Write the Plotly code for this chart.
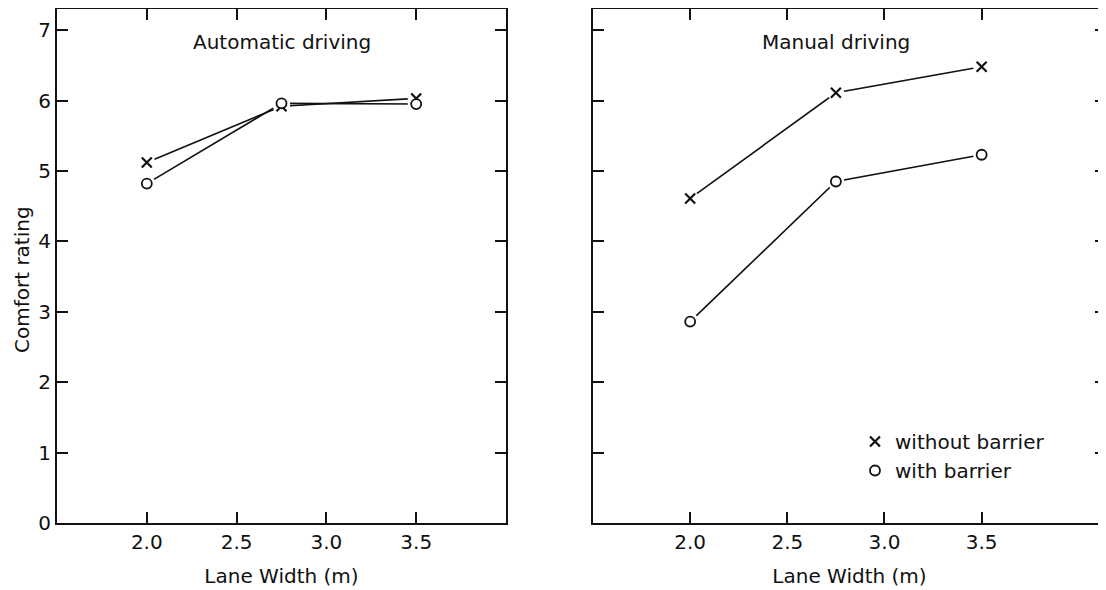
import plotly.graph_objects as go

# ---- data ----
lane_width = [2.0, 2.75, 3.5]
auto_without = [5.12, 5.92, 6.03]
auto_with = [4.82, 5.96, 5.95]
manual_without = [4.61, 6.11, 6.48]
manual_with = [2.86, 4.85, 5.23]
x_ticks = [2.0, 2.5, 3.0, 3.5]
x_tick_labels = ["2.0", "2.5", "3.0", "3.5"]
y_ticks = [0, 1, 2, 3, 4, 5, 6, 7]
panel_titles = ["Automatic driving", "Manual driving"]
series_names = ["without barrier", "with barrier"]

FONT = "DejaVu Sans"
FS = 20
BLACK = "#111111"

fig = go.Figure()

panels = [("x", "y", auto_without, auto_with), ("x2", "y2", manual_without, manual_with)]

# lines first
for xa, ya, wo, wi in panels:
    for vals in (wo, wi):
        fig.add_trace(go.Scatter(x=lane_width, y=vals, xaxis=xa, yaxis=ya, mode="lines",
                                 line=dict(color=BLACK, width=1.6), showlegend=False,
                                 hoverinfo="skip"))
# white halos to create gaps around markers
for xa, ya, wo, wi in panels:
    for vals in (wo, wi):
        fig.add_trace(go.Scatter(x=lane_width, y=vals, xaxis=xa, yaxis=ya, mode="markers",
                                 marker=dict(symbol="circle", size=17, color="white"),
                                 showlegend=False, hoverinfo="skip"))
# markers
for i, (xa, ya, wo, wi) in enumerate(panels):
    fig.add_trace(go.Scatter(x=lane_width, y=wo, xaxis=xa, yaxis=ya, mode="markers",
                             name=series_names[0], showlegend=(i == 1),
                             marker=dict(symbol="x-thin", size=10,
                                         line=dict(color=BLACK, width=2.2))))
    fig.add_trace(go.Scatter(x=lane_width, y=wi, xaxis=xa, yaxis=ya, mode="markers",
                             name=series_names[1], showlegend=(i == 1),
                             marker=dict(symbol="circle", size=10, color="white",
                                         line=dict(color=BLACK, width=1.8))))
fig.add_trace(go.Scatter(x=[None], y=[None], xaxis="x2", yaxis="y3", showlegend=False))

# page has an 8px body margin, so figure coordinates = page coordinates - 8
OFF = 8
W, H = 1106 - OFF, 590 - OFF
ml, mr, mt, mb = 57 - OFF, 0, 1, 590 - 523
pw = W - ml - mr
ph = H - mt - mb
d1 = [0, (506 - 57) / pw]
d2 = [(593 - 57) / pw, 1.0]


def px_x(page_x):
    return (page_x - OFF - ml) / pw


def px_y(page_y):
    return 1 - (page_y - OFF - mt) / ph


axis_common = dict(showline=True, linecolor=BLACK, linewidth=2, ticks="inside",
                   ticklen=11, tickwidth=2, tickcolor=BLACK, showgrid=False,
                   zeroline=False, tickfont=dict(family=FONT, size=FS, color=BLACK))

fig.update_layout(
    width=W, height=H,
    margin=dict(l=ml, r=mr, t=mt, b=mb),
    paper_bgcolor="white", plot_bgcolor="white",
    font=dict(family=FONT, size=FS, color=BLACK),
    xaxis=dict(domain=d1, range=[1.5, 4.0], tickvals=x_ticks, ticktext=x_tick_labels,
               mirror="ticks", anchor="y",
               title=dict(text="Lane Width (m)", font=dict(family=FONT, size=FS), standoff=16),
               **axis_common),
    yaxis=dict(domain=[0, 1], range=[0, 7.3], tickvals=y_ticks, mirror="ticks", anchor="x",
               **axis_common),
    xaxis2=dict(domain=d2, range=[1.5, 4.14], tickvals=x_ticks, ticktext=x_tick_labels,
                mirror="ticks", anchor="y2",
                title=dict(text="Lane Width (m)", font=dict(family=FONT, size=FS), standoff=16),
                **axis_common),
    yaxis2=dict(domain=[0, 1], range=[0, 7.3], tickvals=y_ticks, anchor="x2",
                showticklabels=False, **axis_common),
    yaxis3=dict(overlaying="y2", side="right", anchor="x2", range=[0, 7.3], tickvals=y_ticks,
                ticks="inside", ticklen=11, tickwidth=2, tickcolor=BLACK,
                showticklabels=False, showline=False, showgrid=False, zeroline=False),
    legend=dict(x=px_x(855), y=px_y(422), xanchor="left", yanchor="top",
                bgcolor="rgba(0,0,0,0)", font=dict(family=FONT, size=FS),
                itemwidth=30, tracegroupgap=0),
    annotations=[
        dict(text=panel_titles[0], x=2.75, y=6.83, xref="x", yref="y", showarrow=False,
             font=dict(family=FONT, size=FS)),
        dict(text=panel_titles[1], x=2.75, y=6.83, xref="x2", yref="y2", showarrow=False,
             font=dict(family=FONT, size=FS)),
        dict(text="Comfort rating", textangle=-90, x=px_x(22), y=px_y(280),
             xref="paper", yref="paper", xanchor="center", yanchor="middle",
             showarrow=False, font=dict(family=FONT, size=FS)),
    ],
)

fig.write_html("out.html")
